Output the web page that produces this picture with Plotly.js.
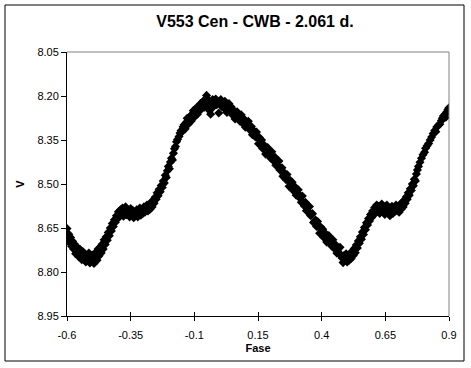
<!DOCTYPE html>
<html>
<head>
<meta charset="utf-8">
<script src="https://cdn.plot.ly/plotly-3.0.1.min.js"></script>
<style>html,body{margin:0;padding:0;background:#fff;}#chart{width:471px;height:368px;}</style>
</head>
<body>
<div id="chart"></div>
<script>
const phase = [
-0.600,-0.597,-0.593,-0.590,-0.586,-0.582,-0.578,-0.574,-0.570,-0.566,-0.562,-0.558,-0.554,-0.550,-0.546,-0.542,-0.538,-0.534,-0.530,-0.526,
-0.522,-0.518,-0.514,-0.510,-0.506,-0.502,-0.498,-0.494,-0.490,-0.486,-0.482,-0.478,-0.474,-0.470,-0.466,-0.462,-0.458,-0.454,-0.450,-0.446,
-0.442,-0.438,-0.434,-0.430,-0.426,-0.422,-0.418,-0.414,-0.410,-0.406,-0.402,-0.398,-0.394,-0.390,-0.386,-0.382,-0.378,-0.374,-0.370,-0.366,
-0.362,-0.358,-0.354,-0.350,-0.346,-0.342,-0.338,-0.334,-0.330,-0.326,-0.322,-0.318,-0.314,-0.310,-0.306,-0.302,-0.298,-0.294,-0.290,-0.286,
-0.282,-0.278,-0.274,-0.270,-0.266,-0.262,-0.258,-0.254,-0.250,-0.246,-0.242,-0.238,-0.234,-0.230,-0.226,-0.222,-0.218,-0.214,-0.210,-0.206,
-0.202,-0.198,-0.194,-0.190,-0.186,-0.182,-0.178,-0.174,-0.170,-0.166,-0.160,-0.156,-0.152,-0.148,-0.144,-0.140,-0.136,-0.132,-0.128,-0.124,
-0.120,-0.116,-0.112,-0.108,-0.104,-0.100,-0.096,-0.092,-0.088,-0.084,-0.080,-0.076,-0.072,-0.068,-0.064,-0.060,-0.056,-0.052,-0.048,-0.044,
-0.040,-0.036,-0.032,-0.028,-0.024,-0.020,-0.016,-0.012,-0.008,-0.004,0.000,0.004,0.008,0.012,0.016,0.020,0.024,0.028,0.032,0.036,
0.040,0.044,0.048,0.052,0.056,0.060,0.064,0.068,0.072,0.076,0.080,0.084,0.088,0.092,0.096,0.100,0.104,0.108,0.112,0.116,
0.120,0.124,0.128,0.132,0.136,0.140,0.144,0.148,0.152,0.156,0.160,0.164,0.168,0.172,0.176,0.180,0.184,0.188,0.192,0.196,
0.200,0.204,0.208,0.212,0.216,0.220,0.224,0.228,0.232,0.236,0.240,0.244,0.248,0.252,0.256,0.260,0.264,0.268,0.272,0.276,
0.280,0.284,0.288,0.292,0.296,0.300,0.304,0.308,0.312,0.316,0.320,0.324,0.328,0.332,0.336,0.340,0.344,0.348,0.352,0.356,
0.360,0.364,0.368,0.372,0.376,0.380,0.384,0.388,0.392,0.396,0.400,0.404,0.408,0.412,0.416,0.420,0.424,0.428,0.432,0.436,
0.440,0.444,0.448,0.452,0.456,0.460,0.464,0.468,0.472,0.476,0.480,0.484,0.488,0.492,0.496,0.500,0.504,0.508,0.512,0.516,
0.520,0.524,0.528,0.532,0.536,0.540,0.544,0.548,0.552,0.556,0.560,0.564,0.568,0.572,0.576,0.580,0.584,0.588,0.592,0.596,
0.600,0.604,0.608,0.612,0.616,0.620,0.624,0.628,0.632,0.636,0.640,0.644,0.648,0.652,0.656,0.660,0.664,0.668,0.672,0.676,
0.680,0.684,0.688,0.692,0.696,0.700,0.704,0.708,0.712,0.716,0.720,0.724,0.728,0.732,0.736,0.740,0.744,0.748,0.752,0.756,
0.760,0.764,0.768,0.772,0.776,0.780,0.786,0.792,0.798,0.804,0.808,0.814,0.820,0.826,0.832,0.838,0.844,0.848,0.852,0.858,
0.864,0.870,0.874,0.878,0.884,0.888,0.892,0.896,0.900
];
const magV = [
8.652,8.688,8.671,8.700,8.682,8.712,8.695,8.722,8.705,8.738,8.716,8.731,8.748,8.722,8.742,8.758,8.730,8.752,8.738,8.766,
8.744,8.757,8.735,8.769,8.748,8.762,8.741,8.771,8.752,8.733,8.760,8.722,8.745,8.716,8.735,8.705,8.722,8.690,8.706,8.680,
8.692,8.665,8.676,8.650,8.660,8.635,8.645,8.622,8.630,8.608,8.618,8.595,8.612,8.588,8.603,8.582,8.610,8.592,8.578,8.605,
8.586,8.598,8.612,8.584,8.601,8.590,8.615,8.596,8.608,8.588,8.612,8.597,8.582,8.606,8.590,8.600,8.578,8.596,8.584,8.572,
8.592,8.575,8.586,8.562,8.578,8.556,8.566,8.545,8.552,8.530,8.540,8.518,8.526,8.505,8.512,8.490,8.497,8.470,8.478,8.455,
8.440,8.448,8.425,8.412,8.418,8.395,8.380,8.372,8.356,8.348,8.338,8.326,8.318,8.322,8.305,8.298,8.312,8.290,8.276,8.296,
8.282,8.268,8.285,8.262,8.250,8.272,8.255,8.240,8.262,8.238,8.250,8.226,8.244,8.230,8.216,8.238,8.222,8.198,8.230,8.214,
8.250,8.262,8.228,8.212,8.236,8.222,8.210,8.230,8.218,8.258,8.226,8.212,8.236,8.222,8.242,8.218,8.234,8.256,8.240,8.226,
8.251,8.237,8.263,8.252,8.250,8.278,8.267,8.254,8.277,8.270,8.287,8.264,8.283,8.294,8.279,8.306,8.290,8.304,8.286,8.314,
8.310,8.304,8.332,8.326,8.320,8.340,8.323,8.342,8.363,8.342,8.361,8.350,8.379,8.370,8.369,8.398,8.388,8.376,8.400,8.394,
8.412,8.390,8.410,8.422,8.408,8.436,8.422,8.438,8.422,8.452,8.450,8.445,8.474,8.469,8.464,8.485,8.468,8.487,8.508,8.487,
8.506,8.494,8.522,8.512,8.510,8.538,8.530,8.520,8.546,8.542,8.562,8.541,8.562,8.575,8.562,8.591,8.577,8.593,8.577,8.607,
8.605,8.601,8.631,8.627,8.623,8.645,8.628,8.647,8.668,8.647,8.666,8.654,8.682,8.672,8.670,8.698,8.688,8.676,8.700,8.694,
8.712,8.690,8.710,8.722,8.708,8.736,8.720,8.734,8.716,8.744,8.752,8.768,8.744,8.758,8.738,8.766,8.748,8.760,8.736,8.754,
8.730,8.744,8.720,8.734,8.708,8.718,8.694,8.702,8.680,8.688,8.664,8.672,8.648,8.656,8.632,8.640,8.618,8.626,8.604,8.614,
8.592,8.606,8.580,8.598,8.572,8.590,8.576,8.600,8.584,8.568,8.594,8.578,8.604,8.586,8.572,8.598,8.582,8.608,8.590,8.576,
8.600,8.584,8.594,8.572,8.590,8.578,8.596,8.570,8.586,8.562,8.578,8.556,8.566,8.544,8.552,8.530,8.538,8.516,8.522,8.500,
8.506,8.484,8.490,8.466,8.452,8.440,8.426,8.412,8.400,8.392,8.378,8.370,8.362,8.350,8.340,8.328,8.318,8.322,8.306,8.300,
8.296,8.284,8.276,8.268,8.262,8.272,8.254,8.246,8.240
];
const xTicks = [-0.6, -0.35, -0.1, 0.15, 0.4, 0.65, 0.9];
const xTickText = ['-0.6', '-0.35', '-0.1', '0.15', '0.4', '0.65', '0.9'];
const yTicks = [8.05, 8.20, 8.35, 8.50, 8.65, 8.80, 8.95];
const yTickText = ['8.05', '8.20', '8.35', '8.50', '8.65', '8.80', '8.95'];

const FONT = 'Liberation Sans, Arial, sans-serif';

const trace = {
  x: phase, y: magV, type: 'scatter', mode: 'markers',
  marker: {symbol: 'diamond', size: 7, color: '#000000', line: {width: 0}},
  hoverinfo: 'none', showlegend: false
};
// same points on the overlay axis, drawn invisibly, so that axis (inner tick marks) is rendered
const traceTicks = {
  x: phase, y: magV, xaxis: 'x2', yaxis: 'y', type: 'scatter', mode: 'markers',
  marker: {opacity: 0}, hoverinfo: 'none', showlegend: false
};

const layout = {
  width: 471, height: 368,
  margin: {l: 67, r: 22, t: 52, b: 52},
  paper_bgcolor: '#ffffff', plot_bgcolor: '#ffffff',
  font: {family: FONT, size: 11, color: '#000000'},
  title: {text: '<b>V553 Cen - CWB - 2.061 d.</b>', font: {family: FONT, size: 16, color: '#000000'},
          x: 0.492, xref: 'paper', xanchor: 'center', y: 0.943, yref: 'container', yanchor: 'middle'},
  xaxis: {
    range: [-0.6, 0.9], tickmode: 'array', tickvals: xTicks, ticktext: xTickText,
    ticks: 'outside', ticklen: 4, tickcolor: '#000', tickwidth: 1, ticklabelstandoff: 5,
    showline: true, linecolor: '#000', linewidth: 1, showgrid: false, zeroline: false,
    title: {text: '<b>Fase</b>', font: {family: FONT, size: 11, color: '#000'}, standoff: 4},
    tickfont: {family: FONT, size: 11, color: '#000'}
  },
  xaxis2: {
    range: [-0.6, 0.9], overlaying: 'x', anchor: 'y', side: 'bottom',
    tickmode: 'array', tickvals: xTicks, ticks: 'inside', ticklen: 4, tickcolor: '#000', tickwidth: 1,
    showticklabels: false, showline: false, showgrid: false, zeroline: false
  },
  yaxis: {
    range: [8.95, 8.05], tickmode: 'array', tickvals: yTicks, ticktext: yTickText,
    ticks: 'outside', ticklen: 5, tickcolor: '#000', tickwidth: 1,
    showline: true, linecolor: '#000', linewidth: 1, showgrid: false, zeroline: false,
    title: {text: '<b>V</b>', font: {family: FONT, size: 11, color: '#000'}, standoff: 10},
    tickfont: {family: FONT, size: 11, color: '#000'}
  },
  shapes: [
    {type: 'line', xref: 'paper', yref: 'paper', x0: 0, x1: 1, y0: 1, y1: 1, line: {color: '#808080', width: 1}},
    {type: 'line', xref: 'paper', yref: 'paper', x0: 1, x1: 1, y0: 0, y1: 1, line: {color: '#808080', width: 1}},
    {type: 'rect', xref: 'paper', yref: 'paper', x0: -0.1623, x1: 1.0393, y0: -0.1705, y1: 1.178,
     line: {color: '#000', width: 1}, fillcolor: 'rgba(0,0,0,0)'}
  ]
};

Plotly.newPlot('chart', [traceTicks, trace], layout, {staticPlot: true, displayModeBar: false});
</script>
</body>
</html>
